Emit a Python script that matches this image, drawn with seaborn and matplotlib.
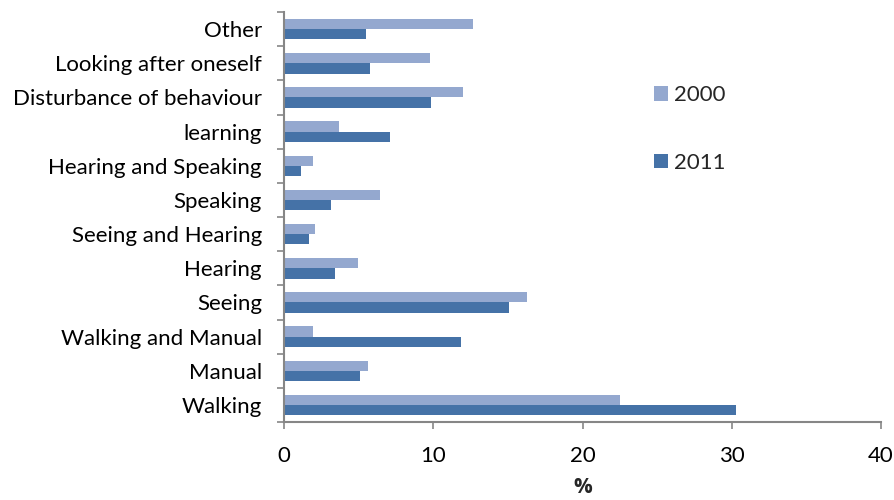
import matplotlib
matplotlib.use("Agg")
import matplotlib.pyplot as plt
import seaborn as sns
import pandas as pd
import numpy as np

categories = ["Other", "Looking after oneself", "Disturbance of behaviour", "learning",
              "Hearing and Speaking", "Speaking", "Seeing and Hearing", "Hearing",
              "Seeing", "Walking and Manual", "Manual", "Walking"]
values_2000 = [12.65, 9.75, 12.0, 3.67, 1.95, 6.45, 2.08, 4.97, 16.3, 1.95, 5.6, 22.5]
values_2011 = [5.5, 5.75, 9.87, 7.1, 1.14, 3.18, 1.7, 3.42, 15.05, 11.83, 5.1, 30.25]
years = ["2000", "2011"]
colors = ["#94A8CF", "#4572A7"]
xticks = [0, 10, 20, 30, 40]

df = pd.DataFrame({
    "category": categories * 2,
    "value": values_2000 + values_2011,
    "year": [years[0]] * len(categories) + [years[1]] * len(categories),
})

sns.set_theme(style="white")
plt.rcParams["font.family"] = ["Lato", "DejaVu Sans"]

fig = plt.figure(figsize=(8.94, 5.0), dpi=100)
ax = fig.add_axes([0.3177, 0.156, 0.6678, 0.820])

sns.barplot(data=df, y="category", x="value", hue="year", order=categories,
            hue_order=years, palette=colors, orient="h", width=0.6,
            linewidth=0, saturation=1, ax=ax)

ax.set_xlim(0, 40)
ax.set_ylim(len(categories) - 0.5, -0.5)
ax.set_xticks(xticks)
ax.set_xticklabels([str(t) for t in xticks], fontsize=16)
ax.set_yticks(range(len(categories)))
ax.set_yticklabels(categories, fontsize=16)
ax.set_yticks(np.arange(-0.5, len(categories), 1.0), minor=True)
ax.tick_params(axis="y", which="major", length=0, pad=16, colors="black")
ax.tick_params(axis="y", which="minor", length=5, width=1.2, color="#868686", left=True)
ax.tick_params(axis="x", which="major", length=5, width=1.2, color="#868686",
               bottom=True, pad=12, labelcolor="black")

for s in ["top", "right"]:
    ax.spines[s].set_visible(False)
for s in ["left", "bottom"]:
    ax.spines[s].set_visible(True)
    ax.spines[s].set_color("#868686")
    ax.spines[s].set_linewidth(1.5)

ax.set_ylabel("")
ax.set_xlabel("%", fontsize=15, fontweight="bold", family=["Open Sans", "DejaVu Sans"],
              labelpad=8)
ax.grid(False)

leg = ax.legend(loc="upper left", bbox_to_anchor=(0.587, 0.87), frameon=False,
                fontsize=16, handlelength=0.6, handleheight=0.6,
                labelspacing=2.15, handletextpad=0.3)

fig.savefig("out.png", dpi=100)
